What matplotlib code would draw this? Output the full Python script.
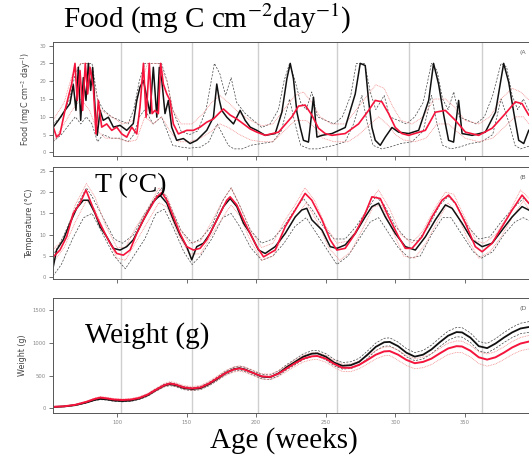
import matplotlib
matplotlib.use("Agg")
import matplotlib.pyplot as plt

# ---- datos: semanas de edad y valores ----
year_lines = [103, 154, 201, 258, 310, 362]
age_ticks = [100, 150, 200, 250, 300, 350]

# Panel A: alimento (mgC cm-2 day-1)
food_obs_w = [54.2, 57.8, 62.6, 66.2, 68.6, 70.5, 72.2, 73.9, 75.8, 77.7, 79.4, 81.1, 82.5, 84.2, 85.8,
              87.8, 90.1, 93.8, 97.4, 102.2, 107, 111.7, 114.2, 116.5, 119, 121.4, 123.7, 126.1, 128.6,
              130.4, 132.2, 134.5, 136.9, 139.3, 142.9, 147.7, 152.5, 157.3, 164.5, 169.3, 171.7, 173.6,
              175.3, 178.9, 183.7, 188.5, 192.1, 195.7, 200.5, 206.5, 213.7, 218.5, 222.1, 224.5, 226.8,
              229.3, 231.7, 234, 237.6, 241.2, 243.7, 247.3, 254.5, 264, 271.2, 274.8, 278.4, 280.8, 283.2,
              285.6, 289.2, 292.8, 297.6, 302.4, 309.6, 316.8, 324, 327.5, 331.1, 334.8, 338.3, 341.9,
              345.5, 348, 355.2, 364.7, 372, 377.9, 381.5, 385.1, 388.7, 392.3, 395.9]
food_obs = [7.1, 9, 11.8, 13.7, 19, 11.8, 23.9, 9, 21, 14.6, 25, 17.4, 23.9, 12.7, 4.8,
            11.8, 9, 9.9, 7.1, 7.6, 6.2, 8.1, 14.6, 18.3, 20.2, 15.5, 10.9, 23.9, 9.9,
            23.9, 20.2, 10.9, 14.6, 7.1, 3.4, 3.9, 2.5, 3.4, 6.2, 9.9, 19.2, 14.6,
            11.8, 9.9, 8, 11.8, 9, 7.1, 6.2, 4.8, 5.3, 11.3, 20.7, 25, 20.7,
            11.3, 7, 3.4, 2.9, 15.5, 4.3, 4.8, 5.3, 7, 16.4, 25, 24.4, 14.6, 7,
            3.4, 2, 4.3, 7, 5.7, 5.3, 6.2, 14.6, 25, 19.2, 10.5, 3.4, 2.9,
            14.6, 5.3, 4.8, 5.7, 11.3, 25, 19.7, 11.3, 3.4, 2.5, 6.2]
food_mod_w = [54.2, 56.6, 59, 62.6, 65, 67.4, 69.8, 71.4, 73.4, 75.3, 77.2, 78.9, 80.6, 83, 84.9, 86.6,
              89, 92.6, 96.2, 99.8, 103.4, 107, 110.6, 114.2, 116.5, 119, 120.9, 123.2, 125.2, 127.3,
              129.7, 131.4, 133.3, 135.8, 138.1, 140.5, 144.1, 150.1, 154.9, 159.7, 164.5, 169.3, 174.1,
              176.5, 181.3, 186.1, 190.9, 195.7, 200.5, 206.5, 216.1, 225.7, 230.4, 235.2, 240, 244.8,
              249.6, 254.5, 264, 273.6, 280.8, 285.6, 290.4, 295.2, 300, 304.8, 309.6, 321.6, 328.8, 336,
              343.2, 350.4, 359.9, 369.6, 379.1, 386.3, 391.1, 395.9]
food_mod = [7.1, 4.3, 5.2, 11.8, 15.5, 19.2, 25, 14.6, 23, 11.8, 25, 16.4, 23.9, 18.3, 5.2, 14.6,
            7.1, 8, 6.2, 7.1, 5.2, 4.3, 7.1, 5.2, 12.7, 25, 9.9, 25, 10.9, 11.8,
            10.9, 25, 19.2, 16.4, 14.6, 8, 5.2, 6.2, 6.2, 7.1, 8.5, 9.4, 11.3,
            12.2, 10.5, 9.4, 8, 6.6, 5.7, 4.8, 5.7, 10, 13, 13.3, 10.5, 6.8,
            5.3, 4.8, 5.3, 8, 11.8, 14.6, 14.2, 10.9, 7, 5.3, 4.8, 6.2, 11.3, 11.8,
            9, 5.7, 4.8, 6.8, 10.9, 14.2, 13.7, 10.5]
food_obs_hi_w = [54, 60, 66, 70, 74, 78, 82, 86, 90, 96, 102, 108, 112, 116, 120, 126, 132, 136, 140,
                 146, 152, 158, 164, 170, 174, 178, 182, 186, 192, 198, 204, 210, 216, 220, 224, 228,
                 232, 236, 240, 244, 250, 256, 262, 268, 272, 278, 282, 286, 292, 296, 302, 308, 314,
                 320, 326, 330, 334, 338, 342, 346, 352, 358, 364, 370, 376, 380, 384, 388, 392, 398]
food_obs_hi = [8, 10, 15, 22, 25, 25, 25, 15, 12, 10, 9, 8, 12, 20, 25, 25, 25, 20, 12,
               6, 5, 6, 12, 25, 22, 16, 21, 14, 11, 9, 7, 8, 12, 20, 25, 20,
               14, 12, 17, 10, 9, 8, 10, 16, 25, 25, 17, 12, 16, 10, 9, 8, 10,
               14, 25, 23, 15, 12, 17, 10, 9, 8, 10, 16, 25, 24, 16, 12, 15, 10]
food_obs_lo_w = [54, 60, 66, 70, 74, 78, 82, 86, 90, 96, 102, 108, 112, 116, 120, 126, 132, 136, 140,
                 146, 152, 160, 166, 172, 176, 180, 184, 190, 196, 204, 212, 218, 224, 228, 232, 238,
                 244, 250, 256, 264, 270, 276, 280, 284, 290, 296, 304, 312, 320, 326, 330, 334, 340,
                 346, 354, 362, 370, 376, 382, 386, 390, 398]
food_obs_lo = [3, 5, 8, 10, 8, 10, 8, 3, 5, 4, 4, 3, 5, 10, 12, 8, 10, 6, 2,
               1.5, 1.2, 1.5, 3, 8, 5, 2, 1, 1, 2, 2.5, 3, 6, 15, 8, 2, 1,
               1, 1.5, 2, 3, 8, 16, 8, 2, 1, 1.5, 2.5, 3, 6, 16, 8, 2, 1,
               1.5, 2.5, 3, 5, 15, 8, 2, 1, 2]
food_mod_hi_w = [54, 62, 68, 74, 80, 84, 88, 96, 104, 112, 116, 122, 130, 136, 140, 146, 154, 162, 168,
                 174, 180, 188, 196, 204, 212, 220, 228, 234, 240, 246, 254, 264, 272, 280, 286, 292,
                 298, 304, 312, 320, 328, 336, 342, 350, 360, 368, 376, 384, 390, 398]
food_mod_hi = [9, 14, 22, 25, 25, 18, 12, 10, 8, 9, 18, 25, 25, 20, 12, 8, 8, 11, 14,
               16, 14, 11, 9, 7.5, 8, 12, 16, 17, 14, 10, 8, 8, 12, 16, 19, 18,
               13, 9, 8, 10, 15, 15, 13, 9, 8, 10, 15, 18, 17, 14]
food_mod_lo_w = [54, 62, 68, 74, 80, 86, 92, 100, 108, 114, 120, 126, 132, 138, 144, 152, 160, 168, 174,
                 180, 188, 196, 204, 212, 220, 228, 236, 242, 248, 256, 266, 274, 282, 288, 294, 300,
                 306, 314, 322, 330, 338, 344, 350, 360, 370, 378, 386, 392, 398]
food_mod_lo = [3, 8, 12, 15, 12, 6, 4, 4, 3, 3.5, 10, 8, 10, 6, 3, 3, 4, 6, 8,
               7, 5, 3.5, 3, 3, 6, 9, 9, 7, 4, 3, 3, 5, 8, 10, 8, 5,
               3.5, 3, 4, 8, 8, 6, 4, 3, 4, 7, 10, 10, 7]

# Panel B: temperatura (grados C)
temp_obs_w = [54.2, 56.6, 61.4, 66.2, 71, 75.8, 79.4, 84.2, 87.8, 92.6, 97.4, 102.2, 107, 111.7, 116.5,
              121.4, 126.1, 130.9, 135.8, 140.5, 145.3, 150.1, 153.7, 157.3, 162.1, 166.9, 171.7, 176.5,
              181.3, 186.1, 190.9, 195.7, 201.7, 206.5, 213.7, 220.9, 228.1, 232.8, 236.4, 240, 247.3,
              253.2, 258, 264, 271.2, 278.4, 283.2, 288, 292.8, 300, 307.2, 314.4, 321.6, 328.8, 336,
              340.8, 348, 355.2, 362.4, 369.6, 376.8, 384, 391.1, 395.9]
temp_obs = [2.5, 6.4, 8.8, 12.7, 16.2, 18.1, 18.1, 15, 11.9, 9.5, 6.8, 6.4, 7.2, 8.8, 11.9,
            15, 17.7, 19.3, 17.4, 13.5, 9.9, 7.2, 4.1, 7.2, 8, 10.3, 13.5, 16.6,
            18.5, 16.6, 12.7, 10.3, 6.4, 5.6, 7.2, 10.3, 14.2, 15.8, 16.2, 13.5, 11.1,
            7.2, 6.8, 7.6, 10.3, 14.2, 16.6, 17.4, 14.2, 10.3, 7.2, 6.4, 9.5, 13.5, 17,
            16.2, 12.7, 8.8, 7.2, 8, 11.1, 14.2, 16.6, 15.8]
temp_mod_w = [54.2, 59, 63.8, 68.6, 73.4, 77.7, 80.6, 85.4, 90.1, 95, 99.8, 104.5, 109.4, 114.2, 119,
              123.7, 128.6, 132.2, 135.8, 140.5, 145.3, 150.1, 154.9, 159.7, 164.5, 169.3, 174.1, 178.9,
              181.3, 186.1, 190.9, 195.7, 200.5, 205.3, 213.7, 220.9, 228.1, 235.2, 240, 247.3, 253.2,
              258, 264, 271.2, 278.4, 283.2, 289.2, 295.2, 302.4, 307.2, 312, 319.2, 326.4, 333.6, 338.3,
              343.2, 350.4, 357.5, 362.4, 369.6, 376.8, 384, 391.1, 395.9]
temp_mod = [4.8, 6.4, 9.5, 15, 17.4, 20.5, 18.1, 14.2, 11.1, 8, 5.6, 5.2, 6.4, 10.3, 13.5,
            16.2, 18.9, 19.9, 18.1, 14.2, 10.3, 7.2, 6.4, 6.8, 8.8, 11.9, 15, 18.1,
            18.9, 17, 13.5, 10.3, 7.2, 4.8, 6.4, 11.9, 15.8, 19.7, 18.1, 13.5, 8.8,
            6.4, 6.8, 10.3, 15, 18.9, 18.5, 14.2, 9.5, 6.8, 6.8, 9.5, 14.2, 18.1, 19.3,
            17.4, 12.7, 7.2, 6, 8, 11.9, 15.8, 19.3, 17.4]
temp_obs_hi_w = [54, 62, 70, 78, 82, 90, 98, 104, 112, 120, 128, 132, 138, 146, 154, 160, 168, 176, 182,
                 188, 196, 204, 212, 220, 228, 234, 240, 248, 256, 264, 272, 280, 286, 292, 300, 308,
                 316, 324, 332, 338, 344, 352, 360, 368, 376, 384, 392, 398]
temp_obs_hi = [5, 10, 16, 21, 19, 14, 9, 8, 10, 15, 19, 21, 17, 11, 8, 9, 12, 18, 21,
               17, 11, 8, 9, 12, 16, 18.5, 16, 12, 9, 9, 12, 16, 19, 17, 12, 9,
               8.5, 12, 17, 19, 17, 12, 9, 9.5, 13, 16, 18.5, 17]
temp_obs_lo_w = [54, 60, 68, 76, 82, 90, 98, 106, 112, 120, 128, 134, 140, 148, 154, 160, 168, 176, 182,
                 188, 196, 204, 212, 220, 228, 236, 242, 250, 258, 266, 274, 282, 288, 294, 302, 310,
                 318, 326, 334, 340, 348, 356, 362, 370, 378, 386, 392, 398]
temp_obs_lo = [0.3, 3, 9, 14, 15, 10, 5, 2, 5, 9, 15, 16, 12, 6, 3, 5, 9, 14, 15,
               12, 7, 4, 5, 8, 12, 14, 11, 7, 3, 5, 9, 13, 14, 11, 7, 4.5,
               5, 10, 14, 14, 10, 6, 4.5, 6, 10, 13, 14, 13]
temp_mod_hi_w = [54, 62, 70, 78, 84, 92, 100, 106, 114, 122, 130, 136, 144, 152, 160, 168, 176, 182, 188,
                 196, 204, 212, 220, 228, 235, 242, 250, 258, 266, 274, 282, 288, 296, 304, 312, 320,
                 328, 336, 342, 350, 358, 364, 372, 380, 390, 398]
temp_mod_hi = [6.5, 9, 17, 22, 19, 12, 7, 7, 12, 16, 21, 19, 12, 8, 8.5, 13, 18, 21, 17,
               11, 7, 8, 13, 17, 21, 18, 12, 8, 8.5, 12, 18, 20.5, 16, 10, 8, 11,
               16, 20, 19.5, 14, 8.5, 8, 10, 14, 20.5, 18]
temp_mod_lo_w = [54, 62, 70, 78, 84, 92, 100, 106, 114, 122, 130, 136, 144, 152, 160, 168, 176, 182, 188,
                 196, 204, 212, 220, 228, 236, 244, 252, 260, 268, 276, 284, 290, 298, 306, 314, 322,
                 330, 338, 344, 352, 360, 368, 376, 384, 392, 398]
temp_mod_lo = [3.5, 7, 13, 18, 16, 10, 4.5, 4, 8.5, 13, 17.5, 16.5, 10, 5.5, 5.5, 10, 14, 17, 14.5,
               8.5, 4, 5, 10, 14, 17.5, 13, 7, 4, 6, 11, 16.5, 17, 11, 5, 4.5, 8,
               13, 17.5, 15, 9, 4.5, 6, 9.5, 14, 18, 15]

# Panel D: peso (g)
weight_w = [54, 62, 70, 78, 84, 88, 92, 98, 104, 110, 116, 122, 128, 134, 138, 142, 148, 154, 160, 166,
            172, 178, 184, 188, 192, 198, 204, 210, 216, 222, 228, 234, 240, 244, 250, 256, 262, 268,
            274, 280, 286, 292, 296, 302, 308, 314, 320, 326, 332, 338, 344, 348, 354, 360, 366, 372,
            378, 384, 390, 398]
weight_obs = [22, 30, 50, 90, 130, 145, 140, 120, 112, 120, 150, 200, 280, 350, 370, 355, 310, 295, 310, 370,
              450, 540, 600, 615, 595, 540, 485, 475, 535, 630, 710, 790, 835, 840, 790, 700, 650, 660,
              710, 820, 940, 1010, 1015, 950, 850, 790, 820, 900, 1010, 1110, 1165, 1160, 1080, 950, 920, 990,
              1080, 1160, 1220, 1250]
weight_obs_hi = [25, 34, 56, 98, 140, 156, 152, 132, 124, 132, 164, 216, 298, 370, 392, 378, 334, 318, 334, 395,
                 477, 568, 630, 646, 628, 573, 518, 510, 572, 670, 752, 834, 880, 886, 838, 750, 700, 712,
                 764, 876, 998, 1070, 1077, 1012, 912, 852, 884, 966, 1078, 1180, 1236, 1232, 1152, 1022, 992, 1064,
                 1156, 1238, 1300, 1332]
weight_obs_lo = [19, 26, 44, 82, 120, 134, 128, 108, 100, 108, 136, 184, 262, 330, 348, 332, 286, 272, 286, 345,
                 423, 512, 570, 584, 562, 507, 452, 440, 498, 590, 668, 746, 790, 794, 742, 650, 600, 608,
                 656, 764, 882, 950, 953, 888, 788, 728, 756, 834, 942, 1040, 1094, 1088, 1008, 878, 848, 916,
                 1004, 1082, 1140, 1168]
weight_mod = [24, 32, 55, 100, 145, 165, 155, 135, 128, 135, 160, 210, 285, 355, 380, 365, 320, 305, 320, 380,
              460, 540, 595, 610, 590, 540, 490, 480, 530, 610, 690, 760, 795, 800, 760, 680, 620, 620,
              665, 740, 820, 870, 875, 820, 740, 690, 710, 760, 840, 915, 950, 945, 880, 780, 745, 780,
              850, 930, 990, 1030]
weight_mod_hi = [27, 36, 62, 110, 158, 180, 171, 150, 143, 151, 178, 230, 308, 382, 408, 394, 348, 334, 350, 412,
                 494, 578, 634, 650, 630, 580, 530, 522, 574, 656, 738, 810, 847, 853, 814, 734, 676, 678,
                 724, 802, 884, 936, 942, 888, 810, 760, 782, 834, 916, 994, 1030, 1026, 962, 864, 830, 866,
                 938, 1020, 1082, 1124]
weight_mod_lo = [21, 28, 48, 90, 132, 150, 139, 120, 113, 119, 142, 190, 262, 328, 352, 336, 292, 276, 290, 348,
                 426, 502, 556, 570, 550, 500, 450, 438, 486, 564, 642, 710, 743, 747, 706, 626, 564, 562,
                 606, 678, 756, 804, 808, 735, 655, 605, 622, 670, 748, 822, 855, 850, 785, 683, 645, 678,
                 745, 822, 880, 918]

# ---- estilo ----
RED = "#f5143c"
RED_LIGHT = "#f28a8a"
BLACK = "#111111"
GREY = "#555555"
plt.rcParams["mathtext.fontset"] = "stix"

fig = plt.figure(figsize=(5.29, 4.58), dpi=100)

left = 53 / 529
width = (540 - 53) / 529
ax_food = fig.add_axes([left, 1 - 156 / 458, width, (156 - 42) / 458])
ax_temp = fig.add_axes([left, 1 - 279 / 458, width, (279 - 167) / 458])
ax_wt = fig.add_axes([left, 1 - 413 / 458, width, (413 - 298) / 458])


def style_axis(ax, ylim, yticks, ylabel, tag, show_xlabels):
    ax.set_xlim(54, 404)
    ax.set_ylim(*ylim)
    for x in year_lines:
        ax.axvline(x, color="#cfcfcf", lw=1.0, zorder=0)
    ax.set_yticks(yticks)
    ax.set_xticks(age_ticks)
    if show_xlabels:
        ax.set_xticklabels([str(t) for t in age_ticks])
    else:
        ax.set_xticklabels([])
    ax.tick_params(axis="both", length=3, width=0.6, color=GREY, labelsize=3.8,
                   labelcolor="#888888", pad=2)
    ax.set_ylabel(ylabel, fontsize=5.8, color="#444444", labelpad=4)
    for side in ["top", "left", "bottom"]:
        ax.spines[side].set_color(GREY)
        ax.spines[side].set_linewidth(0.7)
    ax.spines["right"].set_visible(False)
    ax.text(389, ylim[1] - (ylim[1] - ylim[0]) * 0.07, tag, fontsize=4.5, color="#666666",
            va="top", ha="left")


# Panel A: alimento
ax_food.plot(food_obs_hi_w, food_obs_hi, color="#444444", lw=0.5, ls=(0, (3, 2)))
ax_food.plot(food_obs_lo_w, food_obs_lo, color="#444444", lw=0.5, ls=(0, (3, 2)))
ax_food.plot(food_mod_hi_w, food_mod_hi, color=RED_LIGHT, lw=0.6, ls=(0, (1, 1)))
ax_food.plot(food_mod_lo_w, food_mod_lo, color=RED_LIGHT, lw=0.6, ls=(0, (1, 1)))
ax_food.plot(food_obs_w, food_obs, color=BLACK, lw=1.1)
ax_food.plot(food_mod_w, food_mod, color=RED, lw=1.2)
style_axis(ax_food, (-1, 31), [0, 5, 10, 15, 20, 25, 30],
           "Food (mgC cm$^{-2}$ day$^{-1}$)", "(A", False)

# Panel B: temperatura
ax_temp.plot(temp_obs_hi_w, temp_obs_hi, color="#444444", lw=0.5, ls=(0, (3, 2)))
ax_temp.plot(temp_obs_lo_w, temp_obs_lo, color="#444444", lw=0.5, ls=(0, (3, 2)))
ax_temp.plot(temp_mod_hi_w, temp_mod_hi, color=RED_LIGHT, lw=0.6, ls=(0, (1, 1)))
ax_temp.plot(temp_mod_lo_w, temp_mod_lo, color=RED_LIGHT, lw=0.6, ls=(0, (1, 1)))
ax_temp.plot(temp_obs_w, temp_obs, color=BLACK, lw=1.1)
ax_temp.plot(temp_mod_w, temp_mod, color=RED, lw=1.2)
style_axis(ax_temp, (-0.4, 25.9), [0, 5, 10, 15, 20, 25], "Temperature (°C)", "(B", False)

# Panel D: peso
ax_wt.plot(weight_w, weight_obs_hi, color="#444444", lw=0.5, ls=(0, (3, 2)))
ax_wt.plot(weight_w, weight_obs_lo, color="#444444", lw=0.5, ls=(0, (3, 2)))
ax_wt.plot(weight_w, weight_mod_hi, color=RED_LIGHT, lw=0.6, ls=(0, (1, 1)))
ax_wt.plot(weight_w, weight_mod_lo, color=RED_LIGHT, lw=0.6, ls=(0, (1, 1)))
ax_wt.plot(weight_w, weight_obs, color=BLACK, lw=1.3)
ax_wt.plot(weight_w, weight_mod, color=RED, lw=1.4)
style_axis(ax_wt, (-70, 1685), [0, 500, 1000, 1500], "Weight (g)", "(D", True)

# ---- textos grandes (serif) ----
serif = ["Liberation Serif", "DejaVu Serif"]
fig.text(63 / 529, 1 - 19 / 458, "Food (mg C cm$^{-2}$day$^{-1}$)", fontsize=21,
         family=serif, va="center", ha="left")
fig.text(95 / 529, 1 - 186 / 458, "T (°C)", fontsize=20, family=serif, va="center", ha="left")
fig.text(85 / 529, 1 - 336 / 458, "Weight (g)", fontsize=21, family=serif, va="center", ha="left")
fig.text(284 / 529, 1 - 441 / 458, "Age (weeks)", fontsize=21, family=serif, va="center", ha="center")

fig.savefig("out.png", dpi=100)
